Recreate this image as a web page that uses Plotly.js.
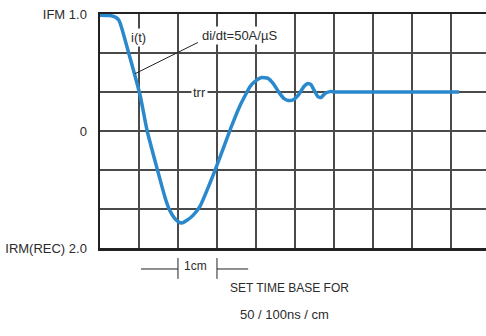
<!DOCTYPE html>
<html>
<head>
<meta charset="utf-8">
<script src="https://cdn.plot.ly/plotly-3.0.1.min.js"></script>
<style>html,body{margin:0;padding:0;background:#fff;overflow:hidden}</style>
</head>
<body>
<div id="chart" style="width:486px;height:336px"></div>
<script>
// Time in grid divisions (1 cm each), current in grid divisions (0 = zero crossing)
const timeDiv = [0, 0.26, 0.41, 0.49, 0.56, 1.03, 1.21, 1.67, 1.79, 1.90, 2.00, 2.10, 2.23, 2.38, 2.56, 2.95, 3.36, 3.59, 3.85, 4.00, 4.15, 4.31, 4.44, 4.59, 4.72, 4.85, 4.97, 5.10, 5.23, 5.33, 5.41, 5.51, 5.59, 5.67, 5.77, 5.90, 6.05, 9.21];
const currentDiv = [2.97, 2.96, 2.91, 2.83, 2.63, 0.91, 0.0, -1.71, -2.04, -2.22, -2.32, -2.36, -2.29, -2.17, -1.94, -1.01, 0.09, 0.65, 1.14, 1.29, 1.37, 1.35, 1.22, 0.99, 0.83, 0.78, 0.81, 0.94, 1.14, 1.22, 1.19, 1.01, 0.88, 0.86, 0.96, 1.01, 1.0, 1.0];
const yTickVals = [-3, -2, -1, 0, 1, 2, 3];
const yTickText = ['IRM(REC) 2.0', '', '', '0', '', '', 'IFM 1.0'];
const xTickVals = [0, 1, 2, 3, 4, 5, 6, 7, 8, 9];
const labelIt = 'i(t)';
const labelSlope = 'di/dt=50A/µS';
const labelTrr = 'trr';
const labelCm = '1cm';
const labelBase1 = 'SET TIME BASE FOR';
const labelBase2 = '50 / 100ns / cm';

const XMAX = 9.9;
const font = {family: 'Liberation Sans, Arial, sans-serif', size: 13, color: '#2b2b2b'};
const gridCol = '#4a4a4a';

const trace = {
  x: timeDiv, y: currentDiv, type: 'scatter', mode: 'lines',
  line: {color: '#2a88cc', width: 3.5, shape: 'spline', smoothing: 0.4},
  hoverinfo: 'none', showlegend: false
};

const layout = {
  width: 486, height: 336,
  margin: {l: 100, r: 0, t: 14, b: 88},
  paper_bgcolor: '#fff', plot_bgcolor: '#fff',
  font: font,
  xaxis: {
    range: [0, XMAX], tickmode: 'array', tickvals: xTickVals, showticklabels: false,
    showgrid: true, gridcolor: gridCol, gridwidth: 1.5, zeroline: false,
    showline: true, linecolor: '#222', linewidth: 2.5, mirror: true, ticks: '', fixedrange: true
  },
  yaxis: {
    range: [-3, 3], tickmode: 'array', tickvals: yTickVals, ticktext: yTickText,
    showgrid: true, gridcolor: gridCol, gridwidth: 1.5, zeroline: false,
    showline: true, linecolor: '#222', linewidth: 2.5, ticks: '', ticklabelstandoff: 8,
    tickfont: font, fixedrange: true
  },
  shapes: [
    {type: 'line', xref: 'x', yref: 'y', x0: 0.90, y0: 1.47, x1: 2.51, y1: 2.27, line: {color: '#222', width: 1}},
    {type: 'line', xref: 'x', yref: 'paper', x0: 1.05, x1: 2, y0: -0.0897, y1: -0.0897, line: {color: '#222', width: 1}},
    {type: 'line', xref: 'x', yref: 'paper', x0: 3, x1: 3.8, y0: -0.0897, y1: -0.0897, line: {color: '#222', width: 1}},
    {type: 'line', xref: 'x', yref: 'paper', x0: 2, x1: 2, y0: -0.043, y1: -0.132, line: {color: '#222', width: 1}},
    {type: 'line', xref: 'x', yref: 'paper', x0: 3, x1: 3, y0: -0.043, y1: -0.132, line: {color: '#222', width: 1}}
  ],
  annotations: [
    {x: 0.99, y: 2.40, xref: 'x', yref: 'y', text: labelIt, showarrow: false, bgcolor: '#fff', borderpad: 1, font: font},
    {x: 2.56, y: 2.45, xref: 'x', yref: 'y', text: labelSlope, showarrow: false, xanchor: 'left', bgcolor: '#fff', borderpad: 1, font: font},
    {x: 2.54, y: 0.99, xref: 'x', yref: 'y', text: labelTrr, showarrow: false, bgcolor: '#fff', borderpad: 1, font: font},
    {x: 2.45, y: -0.115, xref: 'x', yref: 'paper', text: labelCm, showarrow: false, font: Object.assign({}, font, {size: 12})},
    {x: 4.87, y: -0.209, xref: 'x', yref: 'paper', text: labelBase1, showarrow: false, font: Object.assign({}, font, {size: 12})},
    {x: 4.74, y: -0.325, xref: 'x', yref: 'paper', text: labelBase2, showarrow: false, font: font}
  ]
};

Plotly.newPlot('chart', [trace], layout, {staticPlot: true, displayModeBar: false});
</script>
</body>
</html>
